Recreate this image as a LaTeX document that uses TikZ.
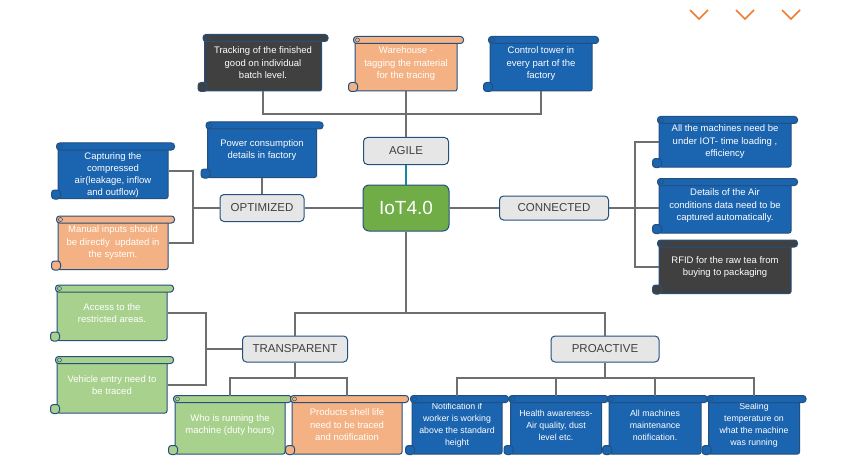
\documentclass[tikz,border=0pt]{standalone}
\usepackage{fontspec}
\setmainfont{Liberation Sans}
\definecolor{scrollblue}{HTML}{1A64B0}
\definecolor{scrolldark}{HTML}{404040}
\definecolor{scrollorange}{HTML}{F4B183}
\definecolor{scrollgreen}{HTML}{A9D18E}
\definecolor{rimblue}{HTML}{24507F}
\definecolor{labelgray}{HTML}{E7E6E6}
\definecolor{labeltext}{HTML}{404040}
\definecolor{iotgreen}{HTML}{70AD47}
\definecolor{linkgray}{HTML}{6E6E6E}
\definecolor{chevron}{HTML}{ED7D31}

\begin{document}
\begin{tikzpicture}[x=1pt,y=-1pt,
    rim/.style={draw=rimblue,line width=1pt},
    scroll/.style={rim,fill=#1,text=white,align=center,inner sep=0pt,rounded corners=2pt,
      font=\fontsize{9.5}{12.5}\selectfont},
    tag/.style={draw=rimblue,line width=1pt,fill=labelgray,text=labeltext,rounded corners=4pt,
      inner sep=0pt,font=\fontsize{11.5}{13}\selectfont},
    link/.style={draw=linkgray,line width=1.2pt},
    small/.style={font=\fontsize{8.8}{12}\selectfont}]

   \useasboundingbox (0,0) rectangle (867,468);

   % chevrons
   \foreach \cx in {699,745,791}
     \draw[chevron,line width=1.6pt] (\cx-9,10) -- (\cx,19) -- (\cx+9,10);

   % centre and categories
   \node[tag,fill=iotgreen,text=white,rounded corners=6pt,minimum width=86pt,minimum height=46pt,
     font=\fontsize{19}{21}\selectfont] (iot) at (406,208) {IoT4.0};
   \node[tag,minimum width=85pt,minimum height=27pt] (agile) at (406,151) {AGILE};
   \node[tag,minimum width=84pt,minimum height=27pt] (optimized) at (262,208) {OPTIMIZED};
   \node[tag,minimum width=109pt,minimum height=24pt] (connected) at (554,208) {CONNECTED};
   \node[tag,minimum width=105pt,minimum height=26pt] (transparent) at (295,349) {TRANSPARENT};
   \node[tag,minimum width=108pt,minimum height=26pt] (proactive) at (605,349) {PROACTIVE};

   % scrolls
   \node[scroll=scrolldark,minimum width=117pt,minimum height=56pt] (track) at (263,63)
     {Tracking of the finished\\good on individual\\batch level.};
   \node[scroll=scrollorange,minimum width=102pt,minimum height=54pt] (ware) at (406,64)
     {Warehouse -\\tagging the material\\for the tracing};
   \node[scroll=scrollblue,minimum width=102pt,minimum height=54pt] (tower) at (541,64)
     {Control tower in\\every part of the\\factory};
   \node[scroll=scrollblue,minimum width=109pt,minimum height=55pt] (power) at (262,150)
     {Power consumption\\details in factory};
   \node[scroll=scrollblue,minimum width=110pt,minimum height=55pt,
     font=\fontsize{9.5}{12}\selectfont] (capture) at (113,171)
     {\rule{0pt}{14pt}Capturing the\\compressed\\air(leakage, inflow\\and outflow)};
   \node[scroll=scrollorange,minimum width=110pt,minimum height=53pt] (manual) at (113,243)
     {Manual inputs should\\be directly\ \ updated in\\the system.};
   \node[scroll=scrollblue,minimum width=132pt,minimum height=50pt] (machines) at (725,142)
     {All the machines need be\\under IOT- time loading ,\\efficiency};
   \node[scroll=scrollblue,minimum width=132pt,minimum height=54pt] (aircon) at (725,206)
     {Details of the Air\\conditions data need to be\\captured automatically.};
   \node[scroll=scrolldark,minimum width=132pt,minimum height=53pt] (rfid) at (725,267)
     {RFID for the raw tea from\\buying to packaging};
   \node[scroll=scrollgreen,minimum width=110pt,minimum height=55pt] (access) at (112,313)
     {Access to the\\restricted areas.};
   \node[scroll=scrollgreen,minimum width=110pt,minimum height=56pt] (vehicle) at (112,385)
     {Vehicle entry need to\\be traced};
   \node[scroll=scrollgreen,minimum width=110pt,minimum height=58pt] (who) at (230,425)
     {Who is running the\\machine (duty hours)};
   \node[scroll=scrollorange,minimum width=110pt,minimum height=58pt] (products) at (347,425)
     {Products shell life\\need to be traced\\and notification};
   \node[scroll=scrollblue,small,minimum width=90pt,minimum height=58pt] (notify) at (457,425)
     {Notification if\\worker is working\\above the standard\\height};
   \node[scroll=scrollblue,small,minimum width=91pt,minimum height=58pt] (health) at (556,425)
     {Health awareness-\\Air quality, dust\\level etc.};
   \node[scroll=scrollblue,small,minimum width=92pt,minimum height=58pt] (maint) at (655,425)
     {All machines\\maintenance\\notification.};
   \node[scroll=scrollblue,small,minimum width=91pt,minimum height=58pt] (sealing) at (754,425)
     {Sealing\\temperature on\\what the machine\\was running};

   % rolled top and curl of each scroll
   \foreach \n/\c in {track/scrolldark,ware/scrollorange,tower/scrollblue,power/scrollblue,
       capture/scrollblue,manual/scrollorange,machines/scrollblue,aircon/scrollblue,rfid/scrolldark,
       access/scrollgreen,vehicle/scrollgreen,who/scrollgreen,products/scrollorange,
       notify/scrollblue,health/scrollblue,maint/scrollblue,sealing/scrollblue}{
     \draw[rim,fill=\c,rounded corners=3pt] ([xshift=-1pt]\n.north west) rectangle ([xshift=6pt,yshift=-7pt]\n.north east);
     \draw[rim,fill=\c,rounded corners=3pt] ([xshift=-6pt,yshift=9pt]\n.south west) rectangle ([xshift=3pt]\n.south west);
     \draw[rim,line width=0.5pt] ([xshift=3pt,yshift=-3.5pt]\n.north west) circle (2pt);
   }

   % connectors
   \coordinate (topjoin) at (406,114);
   \coordinate (optjoin) at (193,208);
   \coordinate (conjoin) at (635,208);
   \coordinate (lowjoin) at (406,313);
   \coordinate (trjoin) at (206,349);
   \coordinate (trdown) at (295,378);
   \coordinate (prodown) at (605,378);

   \draw[link] (track.south) |- (topjoin) -| (tower.south);
   \draw[link] (ware.south) -- (agile.north);
   \draw[draw=rimblue!70!cyan,line width=1.2pt] (agile.south) -- (iot.north);
   \draw[link] (iot.west) -- (optimized.east);
   \draw[link] (iot.east) -- (connected.west);
   \draw[link] (power.south) -- (optimized.north);
   \draw[link] (optimized.west) -- (optjoin);
   \draw[link] (capture.east) -| (optjoin) |- (manual.east);
   \draw[link] (connected.east) -- (conjoin);
   \draw[link] (machines.west) -| (conjoin) |- (rfid.west);
   \draw[link] (conjoin) -- (conjoin -| aircon.west);
   \draw[link] (iot.south) -- (lowjoin);
   \draw[link] (transparent.north) |- (lowjoin) -| (proactive.north);
   \draw[link] (transparent.west) -- (trjoin);
   \draw[link] (access.east) -| (trjoin) |- (vehicle.east);
   \draw[link] (transparent.south) -- (trdown);
   \draw[link] (who.north) |- (trdown) -| (products.north);
   \draw[link] (proactive.south) -- (prodown);
   \draw[link] (notify.north) |- (prodown) -| (sealing.north);
   \draw[link] (health.north) |- (prodown);
   \draw[link] (maint.north) |- (prodown);
\end{tikzpicture}
\end{document}
